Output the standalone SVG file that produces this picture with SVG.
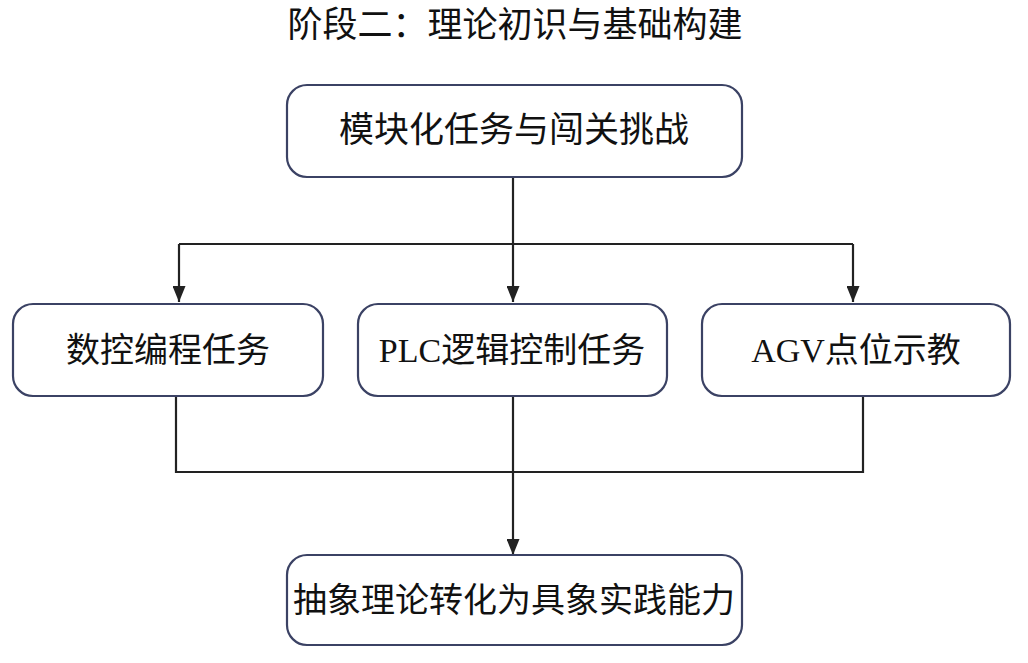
<svg xmlns="http://www.w3.org/2000/svg" width="1028" height="663" viewBox="0 0 1028 663">
<style>
.box{fill:#ffffff;stroke:#3b4264;stroke-width:2.2}
.lbl{font-family:"Liberation Serif","Noto Sans CJK SC",serif;font-size:34px;fill:#111;text-anchor:middle;dominant-baseline:central}
.ln{fill:none;stroke:#222;stroke-width:2.2}
</style>
<defs>
<marker id="ah" markerWidth="16" markerHeight="13" refX="16" refY="6.5" orient="auto" markerUnits="userSpaceOnUse">
<path d="M0,0 L16,6.5 L0,13 Z" fill="#222"/>
</marker>
</defs>
<rect width="1028" height="663" fill="#ffffff"/>
<text id="title" class="lbl" x="515" y="25" style="font-size:35px">阶段二：理论初识与基础构建</text>
<g id="connectors">
<line class="ln" x1="513" y1="177" x2="513" y2="244"/>
<path class="ln" d="M179,244 H853"/>
<line class="ln" x1="179" y1="244" x2="179" y2="302" marker-end="url(#ah)"/>
<line class="ln" x1="513" y1="244" x2="513" y2="302" marker-end="url(#ah)"/>
<line class="ln" x1="853" y1="244" x2="853" y2="302" marker-end="url(#ah)"/>
<path class="ln" d="M176,396 V472 H863 V396"/>
<line class="ln" x1="513" y1="396" x2="513" y2="555" marker-end="url(#ah)"/>
</g>
<g id="n-top"><rect class="box" x="287" y="85" width="455" height="92" rx="20"/><text class="lbl" x="514" y="130" style="font-size:35px">模块化任务与闯关挑战</text></g>
<g id="n-cnc"><rect class="box" x="13" y="304" width="310" height="92" rx="20"/><text class="lbl" x="168" y="350">数控编程任务</text></g>
<g id="n-plc"><rect class="box" x="358" y="304" width="309" height="92" rx="20"/><text class="lbl" x="512" y="350">PLC逻辑控制任务</text></g>
<g id="n-agv"><rect class="box" x="702" y="304" width="308" height="92" rx="20"/><text class="lbl" x="856" y="350">AGV点位示教</text></g>
<g id="n-bottom"><rect class="box" x="287" y="555" width="455" height="90" rx="20"/><text class="lbl" x="514" y="600">抽象理论转化为具象实践能力</text></g>
</svg>
